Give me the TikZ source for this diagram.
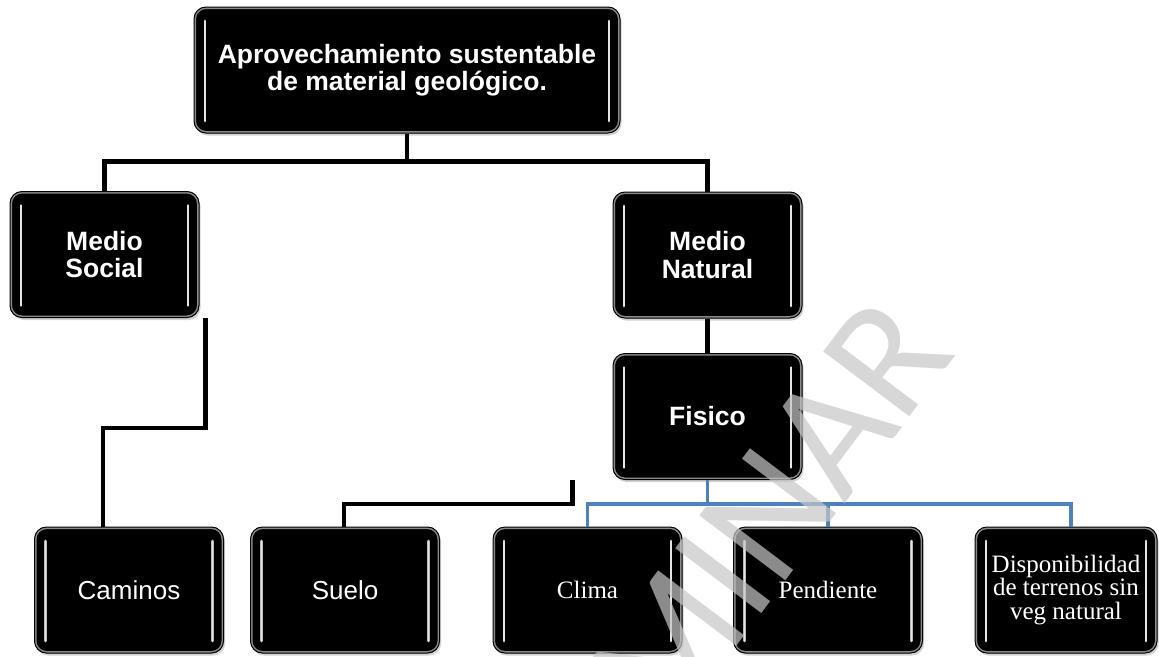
\documentclass[tikz,border=0pt]{standalone}
\usepackage{fontspec}
\newfontfamily\sansf{Liberation Sans}
\newfontfamily\serf{Liberation Serif}
\newfontfamily\wmf{Carlito}
\usetikzlibrary{shadows,calc}
\definecolor{linkblue}{RGB}{79,129,189}
\tikzset{
  boxbase/.style={rectangle, rounded corners=12pt, fill=black, draw=black, line width=1pt,
    text=white, align=center, inner sep=0pt,
    drop shadow={shadow xshift=1.5pt, shadow yshift=-2.5pt, opacity=.35},
    path picture={
      \draw[gray!55, line width=4pt, rounded corners=12pt, opacity=.75]
        (path picture bounding box.south west) rectangle (path picture bounding box.north east);
      \foreach \s/\c in {gray!55/2.8pt, white!80!gray/1.1pt}{
        \draw[\s, line width=\c, line cap=round]
          ([xshift=11pt,yshift=-14pt]path picture bounding box.north west) --
          ([xshift=11pt,yshift=12pt]path picture bounding box.south west);
        \draw[\s, line width=\c, line cap=round]
          ([xshift=-11pt,yshift=-14pt]path picture bounding box.north east) --
          ([xshift=-11pt,yshift=12pt]path picture bounding box.south east);
      }
    }},
  bigbox/.style={boxbase, minimum width=426pt, minimum height=126pt},
  midbox/.style={boxbase, minimum width=189pt, minimum height=126pt},
  boldtxt/.style={font=\sansf\bfseries\fontsize{26.5}{27.5}\selectfont},
  sanstxt/.style={font=\sansf\fontsize{26}{28}\selectfont},
  seriftxt/.style={font=\serf\fontsize{25}{23.5}\selectfont},
  blackline/.style={line width=4.5pt, black},
  blueline/.style={line width=3.5pt, linkblue},
  watermark/.style={font=\wmf\fontsize{168}{168}\selectfont, text=white!78!black,
    text opacity=.7, inner sep=0pt, rotate=53}
}
\begin{document}
\begin{tikzpicture}[x=1pt,y=-1pt]
\useasboundingbox (0,0) rectangle (1159,656);
\fill[white] (0,0) rectangle (1159,656);

\node[bigbox, boldtxt] (top) at (407,70) {Aprovechamiento sustentable\\de material geológico.};
\node[midbox, boldtxt] (ms) at (104.5,254.5) {Medio\\Social};
\node[midbox, boldtxt] (mn) at (707.5,255) {Medio\\Natural};
\node[midbox, boldtxt] (fis) at (707.5,416.5) {Fisico};
\node[midbox, sanstxt] (cam) at (129,590) {Caminos};
\node[midbox, sanstxt] (sue) at (345,590) {Suelo};
\node[midbox, seriftxt] (cli) at (587.5,590) {Clima};
\node[midbox, seriftxt] (pen) at (828,590) {Pendiente};
\node[midbox, seriftxt, minimum width=182pt] (dis) at (1066,590) {Disponibilidad\\de terrenos sin\\veg natural};

\draw[blackline] (top.south) -- ++(0,28) coordinate (j1);
\draw[blackline] (ms.north) |- (j1) -| (mn.north);
\draw[blackline] (mn.south) -- (fis.north);
\draw[blackline] ([xshift=6pt]ms.south east) -- ++(0,110) -| ([xshift=-26pt]cam.north);
\draw[blackline] ([xshift=-40pt]fis.south west) -- ++(0,24) -| ([xshift=-1pt]sue.north);

\draw[blueline] (fis.south) -- ++(0,24) coordinate (j2);
\draw[blueline] (cli.north) |- (j2) -| ([xshift=5pt]dis.north);
\draw[blueline] (pen.north) -- (pen.north |- j2);

\begin{scope}
\clip (0,0) rectangle (1159,656);
\node[watermark] (wm) at (657,663) {PRELIMINAR};
\end{scope}
\end{tikzpicture}
\end{document}
